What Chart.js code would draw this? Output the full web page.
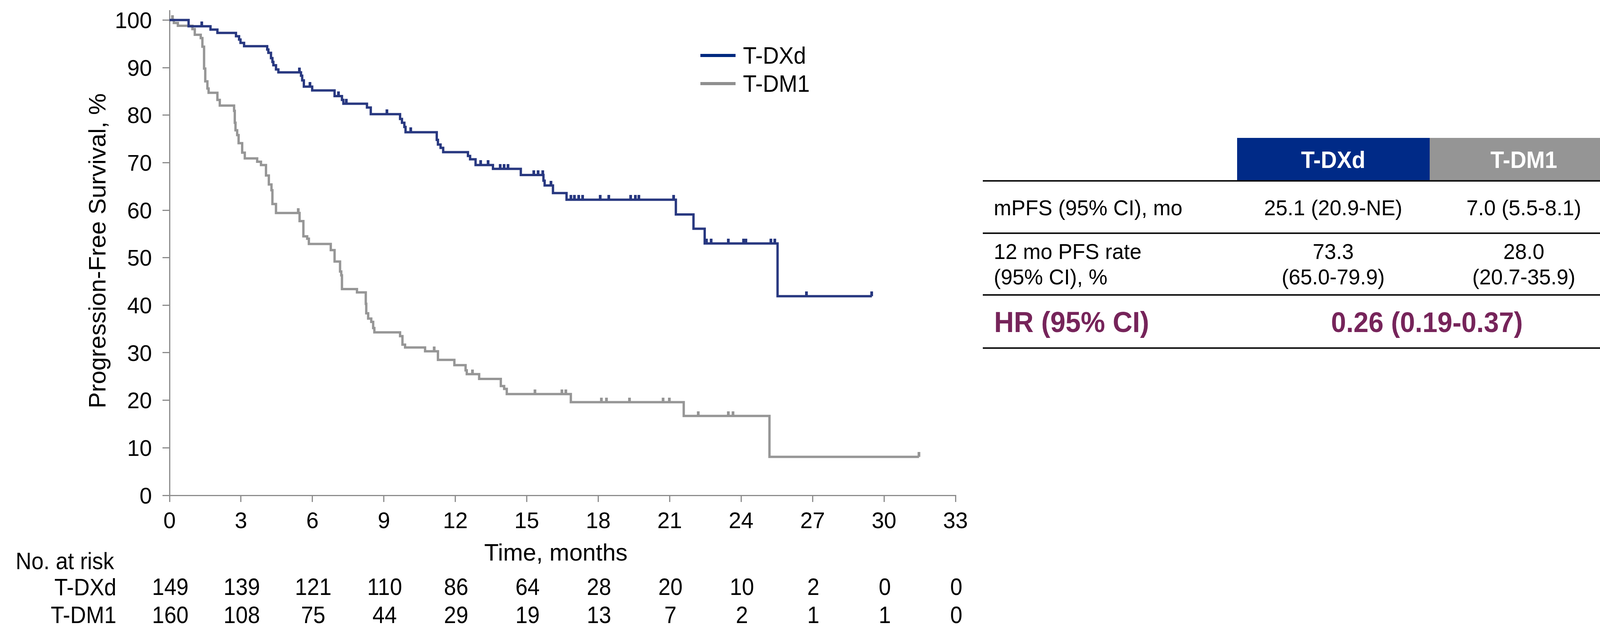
<!DOCTYPE html>
<html><head><meta charset="utf-8">
<script src="https://cdn.jsdelivr.net/npm/chart.js@4.4.1/dist/chart.umd.min.js"></script>
<style>html,body{margin:0;padding:0;background:#fff;overflow:hidden}#wrap{width:4143px;height:1646px;position:relative;background:#fff}</style>
</head><body><div id="wrap"><canvas id="c" width="4143" height="1646" style="width:4143px;height:1646px"></canvas></div>
<script>
// ---- Data ----
const seriesNames = ["T-DXd", "T-DM1"];
const tdxdTimes = [0, 0.80, 1.72, 2.01, 2.79, 2.92, 2.98, 3.13, 4.10, 4.15, 4.26, 4.32, 4.36, 4.47, 4.57, 5.52, 5.57, 5.64, 5.99, 6.93, 7.24, 7.30, 8.29, 8.45, 9.68, 9.76, 9.86, 9.91, 11.22, 11.27, 11.38, 11.49, 12.53, 12.62, 12.85, 13.58, 14.75, 15.70, 15.75, 16.10, 16.67, 21.26, 22.00, 22.47, 25.53, 29.49];
const tdxdSurv = [100, 98.7, 98.0, 97.3, 96.6, 95.9, 95.2, 94.5, 93.8, 93.1, 92.0, 91.2, 90.5, 89.6, 89.0, 88.3, 87.3, 86.0, 85.2, 84.0, 83.2, 82.4, 81.6, 80.2, 79.2, 78.4, 77.5, 76.4, 74.8, 73.8, 73.1, 72.2, 71.4, 70.7, 69.5, 68.7, 67.4, 66.2, 65.2, 63.6, 62.2, 59.1, 56.1, 53.0, 41.9, 41.9];
const tdxdCensor = [1.36, 5.46, 5.90, 7.09, 7.42, 9.13, 10.12, 13.06, 13.37, 13.89, 14.05, 14.21, 15.29, 15.48, 15.67, 16.02, 16.86, 17.00, 17.18, 17.34, 18.09, 18.44, 19.37, 19.56, 19.70, 21.16, 22.54, 22.74, 23.46, 24.11, 24.20, 25.25, 25.42, 26.75, 29.49];
const tdm1Times = [0, 0.18, 0.35, 0.96, 1.06, 1.31, 1.38, 1.45, 1.50, 1.59, 1.64, 2.01, 2.11, 2.71, 2.74, 2.77, 2.84, 2.90, 3.05, 3.16, 3.68, 3.84, 4.05, 4.17, 4.28, 4.32, 4.47, 5.46, 5.62, 5.78, 5.85, 6.77, 6.93, 7.16, 7.21, 7.24, 7.87, 8.24, 8.26, 8.34, 8.47, 8.55, 8.60, 9.68, 9.78, 9.89, 10.73, 11.27, 11.96, 12.43, 12.48, 13.00, 13.91, 14.05, 14.16, 16.85, 21.59, 25.19, 31.47];
const tdm1Surv = [100, 99.4, 98.8, 98.1, 96.9, 96.2, 94.4, 89.8, 87.1, 85.6, 84.7, 83.2, 82.0, 80.9, 78.4, 76.8, 75.8, 74.1, 72.1, 70.9, 70.2, 69.5, 67.3, 65.4, 64.2, 61.3, 59.4, 57.7, 54.5, 54.0, 52.9, 51.6, 49.2, 47.1, 46.3, 43.4, 42.7, 40.3, 38.3, 37.2, 36.5, 35.2, 34.3, 33.5, 31.7, 31.1, 30.3, 28.5, 27.4, 26.3, 25.5, 24.5, 23.0, 22.4, 21.3, 19.6, 16.7, 8.1, 8.1];
const tdm1Censor = [0.12, 5.41, 11.12, 12.72, 15.35, 16.47, 16.64, 18.14, 18.35, 19.32, 20.73, 20.99, 22.20, 23.46, 23.66, 31.47];
const xTicks = [0, 3, 6, 9, 12, 15, 18, 21, 24, 27, 30, 33];
const yTicks = [0, 10, 20, 30, 40, 50, 60, 70, 80, 90, 100];
const atRiskTdxd = [149, 139, 121, 110, 86, 64, 28, 20, 10, 2, 0, 0];
const atRiskTdm1 = [160, 108, 75, 44, 29, 19, 13, 7, 2, 1, 1, 0];
const tableRowLabels = ["mPFS (95% CI), mo", ["12 mo PFS rate", "(95% CI), %"]];
const tableTdxd = ["25.1 (20.9-NE)", ["73.3", "(65.0-79.9)"]];
const tableTdm1 = ["7.0 (5.5-8.1)", ["28.0", "(20.7-35.9)"]];
const hrLabel = "HR (95% CI)";
const hrValue = "0.26 (0.19-0.37)";
const yTitle = "Progression-Free Survival, %";
const xTitle = "Time, months";
const atRiskTitle = "No. at risk";

// ---- Styling ----
const FONT = '"Liberation Sans", Arial, Helvetica, sans-serif';
const BLUE_LINE = '#283880';
const GRAY_LINE = '#969696';
const BLUE_LEG = '#00297f';
const GRAY_LEG = '#8f8f8f';
const AXIS = '#8c8c8c';
const AREA = { left: 434, right: 2446, top: 27, bottom: 1268 };

function steps(t, s) { return t.map((v, i) => ({x: v, y: s[i]})); }
function survAt(t, s, x) { let v = s[0]; for (let i = 0; i < t.length; i++) { if (t[i] <= x) v = s[i]; } return v; }
function censorPts(ct, t, s) { return ct.map(x => ({x: x, y: survAt(t, s, x)})); }
function tickImg(color) {
  const c = document.createElement('canvas'); c.width = 7; c.height = 24;
  const g = c.getContext('2d'); g.fillStyle = color; g.fillRect(0, 0, 7, 12); return c;
}
function txt(ctx, s, x, y, font, align, color, sy) {
  ctx.save(); ctx.font = font; ctx.textAlign = align; ctx.textBaseline = 'alphabetic'; ctx.fillStyle = color;
  ctx.translate(x, y); ctx.scale(1, sy || 1); ctx.fillText(s, 0, 0); ctx.restore();
}

const decor = {
  id: 'decor',
  afterDraw(chart) {
    const ctx = chart.ctx; const xs = chart.scales.x;
    ctx.save();
    // y title
    ctx.save(); ctx.translate(270, 642); ctx.rotate(-Math.PI / 2);
    ctx.font = '62px ' + FONT; ctx.textAlign = 'center'; ctx.textBaseline = 'alphabetic'; ctx.fillStyle = '#000';
    ctx.fillText(yTitle, 0, 0); ctx.restore();
    // x title
    txt(ctx, xTitle, 1423, 1435, '61px ' + FONT, 'center', '#000', 1.0);
    // legend
    const legY = [142, 214]; const legC = [BLUE_LEG, GRAY_LEG]; const legBase = [163, 235];
    for (let i = 0; i < 2; i++) {
      ctx.fillStyle = legC[i]; ctx.fillRect(1793, legY[i] - 4, 90, 8);
      txt(ctx, seriesNames[i], 1902, legBase[i], '57px ' + FONT, 'left', '#000', 1.08);
    }
    // at risk
    txt(ctx, atRiskTitle, 40, 1457, '56px ' + FONT, 'left', '#000', 1.1);
    txt(ctx, seriesNames[0], 298, 1524, '56px ' + FONT, 'right', '#000', 1.08);
    txt(ctx, seriesNames[1], 298, 1595, '56px ' + FONT, 'right', '#000', 1.08);
    xTicks.forEach((t, i) => {
      const px = xs.getPixelForValue(t) + 2;
      txt(ctx, String(atRiskTdxd[i]), px, 1523, '56px ' + FONT, 'center', '#000', 1.08);
      txt(ctx, String(atRiskTdm1[i]), px, 1595, '56px ' + FONT, 'center', '#000', 1.08);
    });
    // table header
    ctx.fillStyle = '#002a87'; ctx.fillRect(3167, 353, 493, 109);
    ctx.fillStyle = '#959595'; ctx.fillRect(3660, 353, 483, 109);
    txt(ctx, seriesNames[0], 3413, 430, 'bold 57px ' + FONT, 'center', '#fff', 1.06);
    txt(ctx, seriesNames[1], 3901, 430, 'bold 57px ' + FONT, 'center', '#fff', 1.06);
    // rule lines
    ctx.fillStyle = '#111';
    [463, 597, 755, 891].forEach(y => ctx.fillRect(2516, y - 2, 1627, 4));
    // row 1
    const RF = '54px ' + FONT;
    txt(ctx, tableRowLabels[0], 2544, 551, RF, 'left', '#000', 1.04);
    txt(ctx, tableTdxd[0], 3413, 551, RF, 'center', '#000', 1.04);
    txt(ctx, tableTdm1[0], 3901, 551, RF, 'center', '#000', 1.04);
    // row 2
    txt(ctx, tableRowLabels[1][0], 2544, 663, RF, 'left', '#000', 1.04);
    txt(ctx, tableRowLabels[1][1], 2544, 728, RF, 'left', '#000', 1.04);
    txt(ctx, tableTdxd[1][0], 3413, 663, RF, 'center', '#000', 1.04);
    txt(ctx, tableTdxd[1][1], 3413, 728, RF, 'center', '#000', 1.04);
    txt(ctx, tableTdm1[1][0], 3901, 663, RF, 'center', '#000', 1.04);
    txt(ctx, tableTdm1[1][1], 3901, 728, RF, 'center', '#000', 1.04);
    // HR row
    txt(ctx, hrLabel, 2545, 850, 'bold 70px ' + FONT, 'left', '#76245a', 1.06);
    txt(ctx, hrValue, 3653, 850, 'bold 69px ' + FONT, 'center', '#76245a', 1.06);
    ctx.restore();
  }
};

const chart = new Chart(document.getElementById('c'), {
  type: 'line',
  data: {
    datasets: [
      { label: seriesNames[0], type: 'scatter', data: censorPts(tdxdCensor, tdxdTimes, tdxdSurv), pointStyle: tickImg(BLUE_LINE), showLine: false },
      { label: seriesNames[0], data: steps(tdxdTimes, tdxdSurv), borderColor: BLUE_LINE, borderWidth: 6, stepped: 'before', pointRadius: 0, fill: false, borderJoinStyle: 'miter' },
      { label: seriesNames[1], type: 'scatter', data: censorPts(tdm1Censor, tdm1Times, tdm1Surv), pointStyle: tickImg(GRAY_LINE), showLine: false },
      { label: seriesNames[1], data: steps(tdm1Times, tdm1Surv), borderColor: GRAY_LINE, borderWidth: 6, stepped: 'before', pointRadius: 0, fill: false, borderJoinStyle: 'miter' }
    ]
  },
  options: {
    responsive: false, devicePixelRatio: 1, animation: false,
    layout: { padding: { left: 0, right: 4143 - AREA.right, top: AREA.top, bottom: 1646 - AREA.bottom - 100 } },
    plugins: { legend: { display: false }, tooltip: { enabled: false }, title: { display: false } },
    scales: {
      x: {
        type: 'linear', min: 0, max: 33,
        afterBuildTicks: s => { s.ticks = xTicks.map(v => ({value: v})); },
        ticks: { color: '#000', font: { family: FONT, size: 57 }, padding: 17, maxRotation: 0, autoSkip: false },
        grid: { drawOnChartArea: false, drawTicks: true, tickLength: 17, color: AXIS, lineWidth: 3 },
        border: { color: AXIS, width: 3 },
        afterFit: s => { s.height = 100; s.paddingLeft = 0; s.paddingRight = 0; }
      },
      y: {
        type: 'linear', min: 0, max: 102,
        afterBuildTicks: s => { s.ticks = yTicks.map(v => ({value: v})); },
        ticks: { color: '#000', font: { family: FONT, size: 57 }, padding: 27, labelOffset: 5 },
        grid: { drawOnChartArea: false, drawTicks: true, tickLength: 18, color: AXIS, lineWidth: 3 },
        border: { color: AXIS, width: 3 },
        afterFit: s => { s.width = AREA.left; s.paddingTop = 0; s.paddingBottom = 0; }
      }
    }
  },
  plugins: [decor]
});
// correct any layout drift so the plot area lands where the reference has it
(function () {
  const ca = chart.chartArea; const p = chart.options.layout.padding;
  const dT = AREA.top - ca.top, dB = ca.bottom - AREA.bottom, dR = ca.right - AREA.right;
  if (Math.abs(dT) > 0.5 || Math.abs(dB) > 0.5 || Math.abs(dR) > 0.5) {
    p.top += dT; p.bottom += dB; p.right += dR; chart.update('none');
  }
})();
</script></body></html>
